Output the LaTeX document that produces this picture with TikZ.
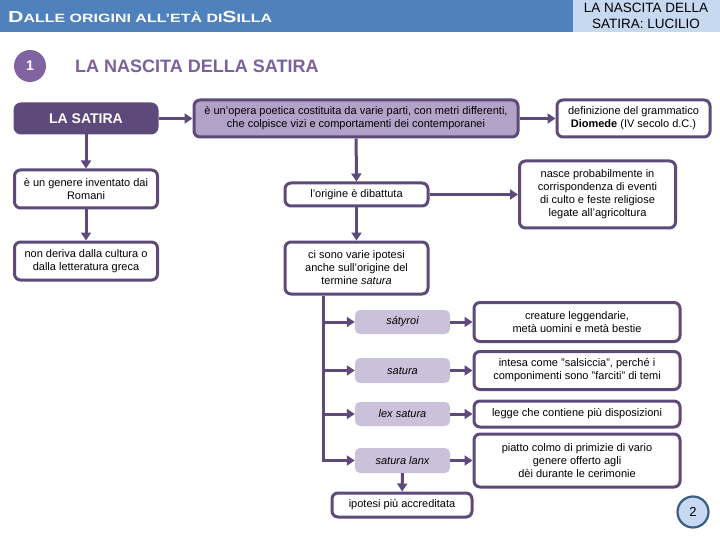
\documentclass[tikz,border=0pt]{standalone}
\usepackage{fontspec}
\usepackage{graphicx}
\setmainfont{Liberation Sans}
\usetikzlibrary{arrows.meta,calc}
\definecolor{pline}{HTML}{5E4A7A}
\definecolor{pfill}{HTML}{B3A2C7}
\definecolor{ppale}{HTML}{CCC1DA}
\definecolor{pcirc}{HTML}{8064A2}
\definecolor{ptitle}{HTML}{7A609C}
\definecolor{hblue}{HTML}{4F81BD}
\definecolor{hlight}{HTML}{C6D9F1}
\definecolor{cborder}{HTML}{3B5C86}
\tikzset{
  x=1pt,y=-1pt,
  txt/.style={font=\fontsize{11}{13}\selectfont, align=center, text=black},
  box/.style={txt, draw=pline, line width=3pt, rounded corners=6pt, fill=white, inner sep=0pt},
  darkbox/.style={box, fill=pline, text=white, font=\bfseries\fontsize{14}{16}\selectfont},
  midbox/.style={box, fill=pfill},
  palebox/.style={txt, fill=ppale, rounded corners=5pt, inner sep=0pt, font=\itshape\fontsize{11}{13}\selectfont},
  conn/.style={draw=pline, line width=3pt, -{Triangle[length=8pt,width=10pt]}},
  plainline/.style={draw=pline, line width=3pt},
}
\begin{document}
\begin{tikzpicture}
\useasboundingbox (0,0) rectangle (720,540);
% header
\fill[hblue] (0,0) rectangle (573,32);
\fill[hlight] (573,0) rectangle (720,32);
\node[anchor=west, text=white, inner sep=0pt, font=\bfseries] (htitle) at (8,17)
  {\resizebox{264pt}{\height}{\fontsize{16}{17}\selectfont D\fontsize{12}{13}\selectfont ALLE ORIGINI ALL’ETÀ DI\fontsize{16}{17}\selectfont S\fontsize{12}{13}\selectfont ILLA}};
\node[align=center, font=\fontsize{13.5}{15.5}\selectfont, text=black, inner sep=0pt] (hright) at (646,16) {LA NASCITA DELLA\\SATIRA: LUCILIO};
% section title
\node[circle, fill=pcirc, minimum size=32pt, inner sep=0pt, text=white, font=\bfseries\fontsize{14}{16}\selectfont] (one) at (30,66) {1};
\node[anchor=west, text=ptitle, font=\bfseries\fontsize{18}{20}\selectfont, inner sep=0pt] (title) at (75,66) {LA NASCITA DELLA SATIRA};
% boxes
\node[darkbox, minimum width=142pt, minimum height=29pt] (satira) at (86,118.5) {LA SATIRA};
\node[midbox, minimum width=324pt, minimum height=37pt] (opera) at (356,118.5) {è un'opera poetica costituita da varie parti, con metri differenti,\\che colpisce vizi e comportamenti dei contemporanei};
\node[box, minimum width=153pt, minimum height=37pt] (diomede) at (633.5,118.5) {definizione del grammatico\\\textbf{Diomede} (IV secolo d.C.)};
\node[box, minimum width=143pt, minimum height=38pt] (genere) at (86,189) {è un genere inventato dai\\Romani};
\node[box, minimum width=143pt, minimum height=38pt] (nonderiva) at (86,261) {non deriva dalla cultura o\\dalla letteratura greca};
\node[box, minimum width=143pt, minimum height=23pt] (origine) at (356.5,194.5) {l'origine è dibattuta};
\node[box, minimum width=156pt, minimum height=67pt] (nasce) at (597.5,194.5) {nasce probabilmente in\\corrispondenza di eventi\\di culto e feste religiose\\legate all'agricoltura};
\node[box, minimum width=143pt, minimum height=52pt] (cisono) at (356.5,268) {ci sono varie ipotesi\\anche sull'origine del\\termine \textit{satura}};
\node[palebox, minimum width=95pt, minimum height=24pt] (satyroi) at (402.5,322) {sátyroi};
\node[palebox, minimum width=95pt, minimum height=25pt] (satura) at (402.5,370.5) {satura};
\node[palebox, minimum width=95pt, minimum height=24pt] (lex) at (402.5,414) {lex satura};
\node[palebox, minimum width=95pt, minimum height=25pt] (lanx) at (402.5,460.5) {satura lanx};
\node[box, minimum width=206pt, minimum height=39pt] (creature) at (577,322) {creature leggendarie,\\metà uomini e metà bestie};
\node[box, minimum width=206pt, minimum height=38pt] (intesa) at (577,370.5) {intesa come "salsiccia", perché i\\componimenti sono "farciti" di temi};
\node[box, minimum width=206pt, minimum height=26pt] (legge) at (577,414) {legge che contiene più disposizioni};
\node[box, minimum width=206pt, minimum height=53pt] (piatto) at (577,460.5) {piatto colmo di primizie di vario\\genere offerto agli\\dèi durante le cerimonie};
\node[box, minimum width=140pt, minimum height=24pt] (ipotesi) at (402,505) {ipotesi più accreditata};
\node[circle, draw=cborder, line width=2.2pt, fill=hlight, minimum size=31pt, inner sep=0pt, font=\fontsize{13}{15}\selectfont] (two) at (693,512) {2};
% connectors
\draw[conn] (satira) -- (opera);
\draw[conn] (opera) -- (diomede);
\draw[conn] (satira) -- (genere);
\draw[conn] (genere) -- (nonderiva);
\draw[conn] (opera) -- (origine);
\draw[conn] (origine) -- (nasce.west |- origine);
\draw[conn] (origine) -- (cisono);
\coordinate (trunk) at (323,460.5);
\draw[plainline] (cisono.south -| trunk) -- (trunk);
\draw[conn] (trunk |- satyroi) -- (satyroi.west);
\draw[conn] (trunk |- satura) -- (satura.west);
\draw[conn] (trunk |- lex) -- (lex.west);
\draw[conn] ($(trunk)+(0,-1.5)$) -- (trunk) -- (lanx.west);
\draw[conn] (satyroi) -- (creature);
\draw[conn] (satura) -- (intesa);
\draw[conn] (lex) -- (legge);
\draw[conn] (lanx) -- (piatto);
\draw[conn] (lanx) -- (ipotesi);
\end{tikzpicture}
\end{document}
